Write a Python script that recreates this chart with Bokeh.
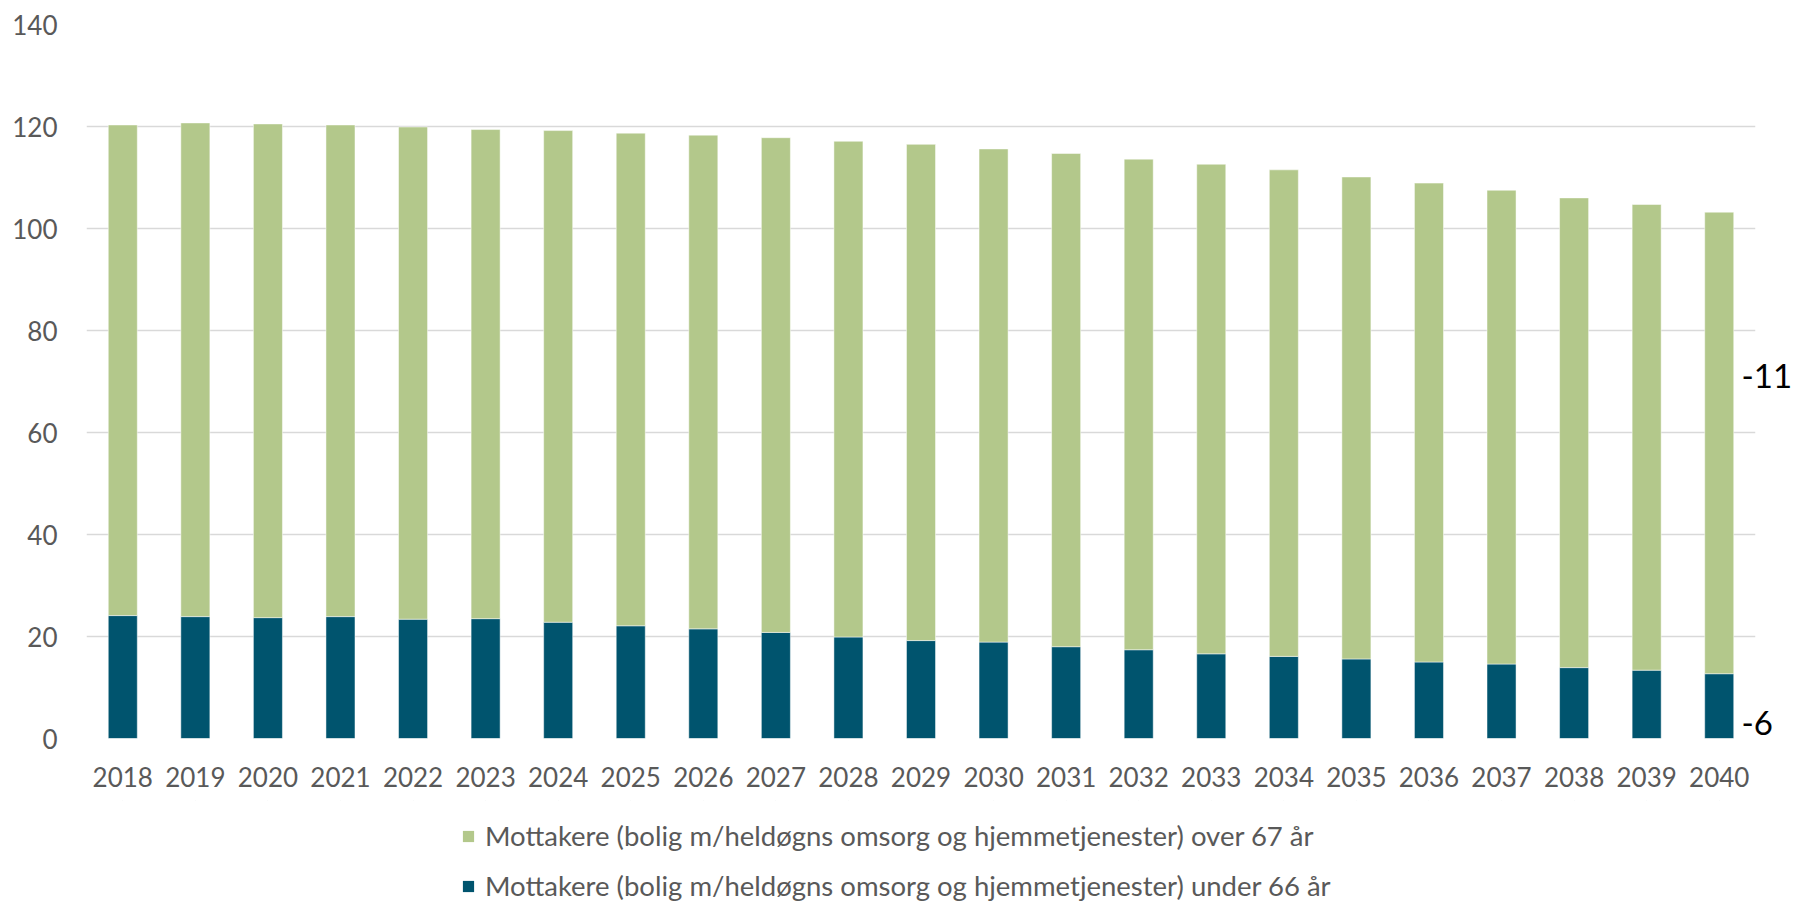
from bokeh.plotting import figure
from bokeh.models import (FactorRange, Range1d, FixedTicker, Legend, LegendItem,
                          ColumnDataSource, LinearAxis)
from bokeh.layouts import column
from bokeh.embed import file_html
from bokeh.resources import INLINE

years = [str(y) for y in range(2018, 2041)]
under_66 = [24.1, 23.9, 23.7, 23.9, 23.4, 23.5, 22.8, 22.1, 21.5, 20.8, 19.9, 19.2,
            18.9, 18.0, 17.4, 16.6, 16.1, 15.6, 15.0, 14.6, 13.9, 13.4, 12.7]
over_67 = [96.2, 96.8, 96.8, 96.4, 96.5, 95.9, 96.4, 96.6, 96.8, 97.0, 97.2, 97.3,
           96.7, 96.7, 96.2, 96.0, 95.4, 94.5, 93.9, 92.9, 92.1, 91.3, 90.5]
y_ticks = [0, 20, 40, 60, 80, 100, 120, 140]
series_names = ["Mottakere (bolig m/heldøgns omsorg og hjemmetjenester) over 67 år",
                "Mottakere (bolig m/heldøgns omsorg og hjemmetjenester) under 66 år"]
change_labels = {71: "-11", 3: "-6"}

GREEN = "#b3c88b"
TEAL = "#00546e"
GREY = "#595959"
FONT = "Lato"

src = ColumnDataSource(dict(year=years, under=under_66, over=over_67))
xr = FactorRange(*years, range_padding=0)

p = figure(width=1795, height=800, x_range=xr,
           y_range=Range1d(0, 140), output_backend="svg", toolbar_location=None,
           min_border_left=86, min_border_right=38, min_border_top=24, min_border_bottom=62)
p.outline_line_color = None

rs = p.vbar_stack(["under", "over"], x="year", width=0.4, source=src,
                  color=[TEAL, GREEN], line_color="white", line_width=0.8, line_alpha=0.6)

p.yaxis.ticker = FixedTicker(ticks=y_ticks)
for ax in (p.xaxis[0], p.yaxis[0]):
    ax.axis_line_color = None
    ax.major_tick_line_color = None
    ax.minor_tick_line_color = None
    ax.major_tick_out = 0
    ax.major_label_text_font = FONT
    ax.major_label_text_font_size = "26px"
    ax.major_label_text_color = GREY
p.yaxis.major_label_standoff = 29
p.xaxis.major_label_standoff = 28
p.xgrid.grid_line_color = None
p.ygrid.grid_line_color = "#d9d9d9"
p.ygrid.grid_line_width = 1.6

# change annotations on the right side
rax = LinearAxis(ticker=FixedTicker(ticks=list(change_labels.keys())),
                 major_label_overrides=change_labels,
                 axis_line_color=None, major_tick_line_color=None, minor_tick_line_color=None,
                 major_tick_out=0,
                 major_label_text_font=FONT, major_label_text_font_size="33px",
                 major_label_text_color="black", major_label_standoff=-14)
p.add_layout(rax, "right")

# legend panel below the chart (its bar renderers lie far outside its visible y range)
lg = figure(width=1795, height=102, output_backend="svg", toolbar_location=None,
            x_axis_type=None, y_axis_type=None, min_border=0,
            x_range=xr, y_range=Range1d(-1000, -999))
lg.outline_line_color = None
lg.grid.visible = False
lrs = lg.vbar_stack(["under", "over"], x="year", width=0.001, source=src,
                    color=[TEAL, GREEN], line_color=None)

legend = Legend(items=[LegendItem(label=series_names[0], renderers=[lrs[1]]),
                       LegendItem(label=series_names[1], renderers=[lrs[0]])],
                location=(375, 0), orientation="vertical",
                label_text_font=FONT, label_text_font_size="27.5px", label_text_color=GREY,
                glyph_width=14, glyph_height=14, label_height=24, label_standoff=10,
                spacing=17, padding=0, margin=0, border_line_color=None,
                background_fill_alpha=0)
lg.add_layout(legend, "center")

layout = column(p, lg, spacing=0)
open("out.html", "w").write(file_html(layout, INLINE))
